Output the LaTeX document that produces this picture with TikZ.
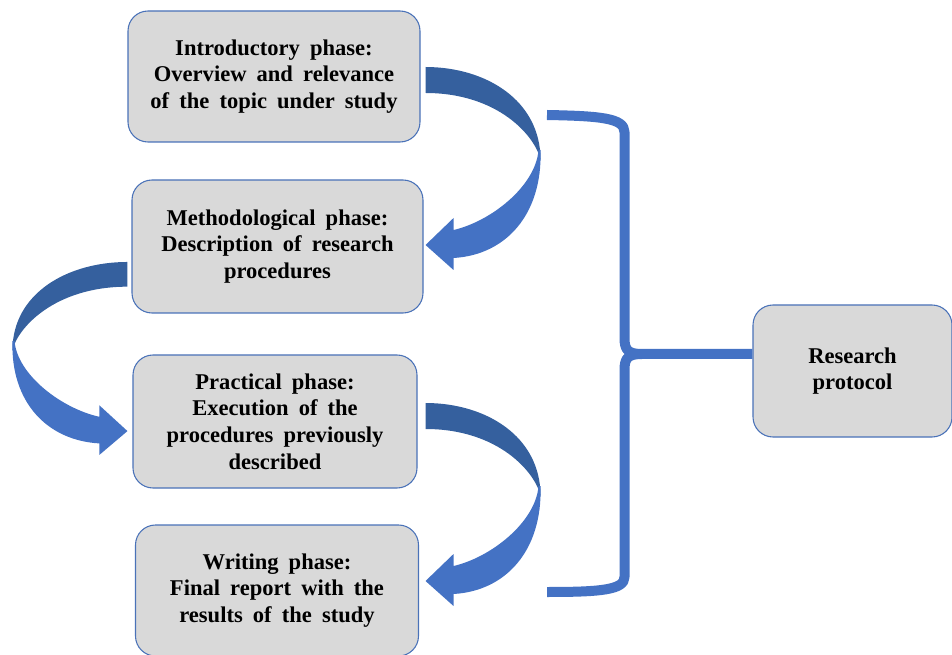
\documentclass[tikz,border=0pt]{standalone}
\usepackage{fontspec}
\setmainfont{Liberation Serif}
\usetikzlibrary{calc}
\definecolor{boxfill}{HTML}{D9D9D9}
\definecolor{boxborder}{HTML}{4A72B8}
\definecolor{arrdark}{HTML}{35609E}
\definecolor{arrlight}{HTML}{4472C4}
\definecolor{bracecol}{HTML}{4472C4}
\newcommand{\widespaces}{\spaceskip=0.45em\relax}
\newcommand{\bentarrow}{%
  \fill[arrdark] (5,-9.5) .. controls (65,-9.5) and (120,23.5) .. (120,83.5)
     .. controls (115,60) and (78,16.5) .. (5,16.5) -- cycle;
  \fill[arrlight] (120,73.5) .. controls (122,138.5) and (85,178.5) .. (33,181.5)
     -- (33,193.5) -- (5,168.5) -- (33,141.5) -- (33,153.5)
     .. controls (70,145) and (115,110) .. (118,73.5) -- cycle;
}
\begin{document}
\begin{tikzpicture}[x=0.75pt,y=-0.75pt,
  box/.style={draw=boxborder, line width=0.8pt, fill=boxfill, rounded corners=15pt,
    align=center, inner sep=0pt,
    font=\fontsize{16.9}{20}\selectfont\bfseries,
    execute at begin node=\widespaces},
  brace/.style={draw=bracecol, line width=7.5pt, line cap=butt, line join=round}]
\useasboundingbox (0,0) rectangle (952,655);

\node[box, minimum width=219pt, minimum height=98.25pt] (intro) at (274,76.5)
  {Introductory phase:\\Overview and relevance\\of the topic under study};
\node[box, minimum width=218.25pt, minimum height=99.75pt] (meth) at (277.5,246.5)
  {Methodological phase:\\Description of research\\procedures};
\node[box, minimum width=213pt, minimum height=99.75pt] (prac) at (275,421.5)
  {Practical phase:\\Execution of the\\procedures previously\\described};
\node[box, minimum width=212.25pt, minimum height=98.25pt] (writ) at (277,590.5)
  {Writing phase:\\Final report with the\\results of the study};
\node[box, minimum width=149.25pt, minimum height=99pt] (rp) at (852.5,371)
  {Research\\protocol};

% curved arrows
\begin{scope}[shift={(intro.east)}]
  \bentarrow
\end{scope}
\begin{scope}[shift={($(prac.east)+(3,-9)$)}]
  \bentarrow
\end{scope}
\begin{scope}[shift={($(meth.west)+(1,24.5)$)}, xscale=-1, yscale=0.95]
  \bentarrow
\end{scope}

% brace
\coordinate (bt) at (547,115);
\coordinate (bb) at (547,592);
\coordinate (bm) at (642,354);
\draw[brace] (bt) .. controls (600,116) and (624.5,118) .. (624.5,132)
  -- (624.5,338) .. controls (624.5,350) and (628,354) .. (bm)
  -- (rp.west |- bm);
\draw[brace] (bm) .. controls (628,354) and (624.5,358) .. (624.5,370)
  -- (624.5,577) .. controls (624.5,590) and (600,592) .. (bb);
\end{tikzpicture}
\end{document}
